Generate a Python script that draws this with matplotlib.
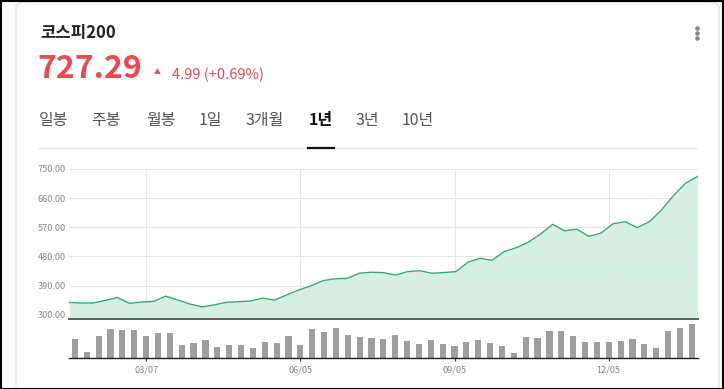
import numpy as np
import matplotlib.pyplot as plt
from matplotlib.patches import FancyBboxPatch, Rectangle
from matplotlib.lines import Line2D

plt.rcParams['font.family'] = ['Noto Sans CJK KR', 'DejaVu Sans']

# weekly closes over one year
prices = [338, 336, 336, 344, 353, 335, 339, 341, 357, 345, 333, 324, 330,
          338, 340, 342, 351, 345, 361, 376, 389, 405, 411, 412, 428, 431,
          430, 422, 433, 436, 428, 430, 433, 462, 474, 468, 495, 507, 524,
          549, 579, 559, 564, 542, 552, 581, 587, 569, 587, 623, 668, 706,
          727.29]
volumes = [58, 18, 67, 87, 86, 86, 67, 75, 77, 40, 47, 54, 33, 41, 41, 30,
           48, 46, 66, 41, 87, 80, 90, 71, 63, 60, 57, 70, 51, 44, 54, 44,
           37, 48, 54, 47, 37, 16, 63, 60, 83, 83, 67, 50, 50, 50, 51, 57,
           44, 30, 81, 90, 103]
yticks = [300, 390, 480, 570, 660, 750]
tick_idx = [6, 19, 32, 45]
tick_labels = ["03/07", "06/05", "09/05", "12/05"]
tabs = ["일봉", "주봉", "월봉", "1일", "3개월", "1년", "3년", "10년"]
tab_x = [39, 91, 146, 199, 245, 309, 355, 402]

W, H = 724, 389
fig = plt.figure(figsize=(W / 100, H / 100), dpi=100)


def fx(x):
    return x / W


def fy(y):
    return 1 - y / H


# card + outer frame
fig.add_artist(FancyBboxPatch((fx(16), fy(420)), fx(703), fy(2) - fy(420),
                              boxstyle="round,pad=0,rounding_size=0.015",
                              transform=fig.transFigure, fc="white",
                              ec="#e3e3e3", lw=1, zorder=0))
fig.add_artist(Rectangle((0.001, 0.001), 0.998, 0.997, transform=fig.transFigure,
                         fill=False, ec="black", lw=1.5, zorder=10))

# header
fig.text(fx(40), fy(33), "코스피200", fontsize=12, fontweight="bold",
         color="#222222", va="center")
fig.text(fx(37), fy(69), "727.29", fontsize=23, fontweight="bold",
         color="#f0474f", va="center")
fig.text(fx(157.5), fy(72), "▲", fontsize=5, color="#f0474f",
         ha="center", va="center")
fig.text(fx(172), fy(75), "4.99 (+0.69%)", fontsize=10.5, color="#f0474f",
         va="center")
fig.add_artist(Line2D([fx(697)] * 3, [fy(28), fy(33), fy(38)], ls="none",
                      marker="o", ms=2.3, color="#888888",
                      transform=fig.transFigure))

for t, x in zip(tabs, tab_x):
    bold = t == "1년"
    fig.text(fx(x), fy(120), t, fontsize=11.5,
             fontweight="bold" if bold else "normal",
             color="#111111" if bold else "#555555", va="center")
fig.add_artist(Line2D([fx(37), fx(698)], [fy(147.5), fy(147.5)],
                      color="#e6e6e6", lw=1, transform=fig.transFigure))
fig.add_artist(Line2D([fx(308), fx(334)], [fy(147.5), fy(147.5)],
                      color="#111111", lw=1.6, transform=fig.transFigure))

# price chart
left, right = 69, 697.7
ax = fig.add_axes([fx(left), fy(318.7), fx(right - left), fy(169) - fy(318.7)])
n = len(prices)
xs = np.linspace(0, n, n)
ymin = 287.5
ax.fill_between(xs, prices, ymin, color="#d5f0e2", lw=0, zorder=1)
ax.plot(xs, prices, color="#3aa876", lw=1.0, zorder=3)
for v in yticks[1:]:
    ax.axhline(v, color="#e4e4e4", lw=0.8, zorder=2)
ax.vlines([i + 0.5 for i in tick_idx], 300, 750, color="#e4e4e4", lw=0.8,
          zorder=2)
ax.set_xlim(0, n)
ax.set_ylim(ymin, 750)
ax.set_yticks(yticks)
ax.set_yticklabels([f"{v:.2f}" for v in yticks])
ax.tick_params(axis="y", length=0, pad=2.2, labelsize=6.6, labelcolor="#888888")
ax.set_xticks([])
for s in ["top", "left", "right"]:
    ax.spines[s].set_visible(False)
ax.spines["bottom"].set_color("#56625d")
ax.spines["bottom"].set_linewidth(1.4)
ax.spines["bottom"].set_zorder(4)

# volume bars
vax = fig.add_axes([fx(left), fy(358.3), fx(right - left), fy(318.7) - fy(358.3)])
vax.bar(np.arange(n) + 0.5, volumes, width=0.52, color="#9e9e9e")
vax.set_xlim(0, n)
vax.set_ylim(0, 119)
vax.set_yticks([])
vax.set_xticks([i + 0.5 for i in tick_idx])
vax.set_xticklabels(tick_labels)
vax.tick_params(axis="x", length=2.5, width=0.8, color="#333333", pad=3,
                labelsize=6.6, labelcolor="#888888")
for s in ["top", "left", "right"]:
    vax.spines[s].set_visible(False)
vax.spines["bottom"].set_color("#222222")
vax.spines["bottom"].set_linewidth(1.0)
vax.patch.set_alpha(0)

fig.savefig("out.png", dpi=100)
